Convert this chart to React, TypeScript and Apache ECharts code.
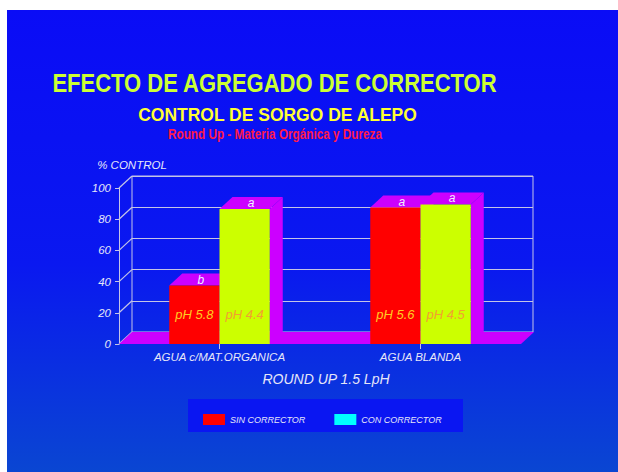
import React, { useEffect, useRef } from 'react';
import * as echarts from 'echarts';

// ---- data ----
const categories = ['AGUA c/MAT.ORGANICA', 'AGUA BLANDA'];
const seriesNames = ['SIN CORRECTOR', 'CON CORRECTOR'];
const sinCorrector = [37.5, 87.5];
const conCorrector = [86.5, 89.5];
const sinPh = ['pH 5.8', 'pH 5.6'];
const conPh = ['pH 4.4', 'pH 4.5'];
const sinLetters = ['b', 'a'];
const conLetters = ['a', 'a'];
const yTicks = [0, 20, 40, 60, 80, 100];

// ---- styles ----
const DX = 13;
const DY = -12;
const PURPLE = '#CC00FF';
const RED = '#FF0000';
const YELLOW = '#CCFF00';
const CYAN = '#00FFFF';
const LIGHT = '#E6E6F8';
const GRIDC = '#C4C4E6';
const FONT = '"Liberation Sans", Arial, sans-serif';

function txt(text: string, fill: string, size: number, extra: any = {}) {
  return {
    text,
    fill,
    fontSize: size,
    fontFamily: FONT,
    fontStyle: extra.fontStyle || 'normal',
    fontWeight: extra.fontWeight || 'normal',
    align: 'center',
    verticalAlign: 'middle',
    textAlign: 'center',
    textVerticalAlign: 'middle',
  };
}

function makeBar(side: number, phs: string[], letters: string[], front: string, phColor: string) {
  return (params: any, api: any) => {
    const cat = api.value(0);
    const v = api.value(1);
    const band = api.size([1, 0])[0];
    const w = band * 0.25;
    const top = api.coord([cat, v]);
    const base = api.coord([cat, 0]);
    const x0 = side === 0 ? top[0] - w : top[0];
    const x1 = x0 + w;
    const yT = top[1];
    const yB = base[1];
    return {
      type: 'group',
      children: [
        {
          type: 'polygon',
          shape: { points: [[x1, yT], [x1 + DX, yT + DY], [x1 + DX, yB + DY], [x1, yB]] },
          style: { fill: PURPLE },
        },
        {
          type: 'polygon',
          shape: { points: [[x0, yT], [x1, yT], [x1 + DX, yT + DY], [x0 + DX, yT + DY]] },
          style: { fill: PURPLE },
        },
        {
          type: 'rect',
          shape: { x: x0, y: yT, width: w, height: yB - yT },
          style: { fill: front },
        },
        {
          type: 'text',
          x: (x0 + x1) / 2 + DX / 2,
          y: yT + DY / 2,
          style: txt(letters[params.dataIndex], '#F0F0FF', 12, { fontStyle: 'italic' }),
        },
        {
          type: 'text',
          x: (x0 + x1) / 2,
          y: yB - 30,
          style: txt(phs[params.dataIndex], phColor, 13, { fontStyle: 'italic' }),
        },
      ],
    };
  };
}

export default function App() {
  const ref = useRef<HTMLDivElement>(null);
  useEffect(() => {
    if (!ref.current) return;
    const chart = echarts.init(ref.current, null, { renderer: 'svg' });
    const axisText = { color: LIGHT, fontFamily: FONT, fontStyle: 'italic', fontSize: 11.5 };
    const option: any = {
      animation: false,
      backgroundColor: '#FFFFFF',
      graphic: [
        {
          type: 'rect',
          z: -10,
          shape: { x: 7, y: 10, width: 611, height: 462 },
          style: {
            fill: new echarts.graphic.LinearGradient(0, 0, 0, 1, [
              { offset: 0, color: '#0A0CF6' },
              { offset: 0.55, color: '#0A18F0' },
              { offset: 1, color: '#0A46D2' },
            ]),
          },
        },
        {
          type: 'rect',
          shape: { x: 188, y: 399, width: 275, height: 33 },
          style: { fill: '#0A16F2' },
        },
        {
          type: 'text',
          x: 274.5,
          y: 84,
          scaleX: 0.88,
          style: txt('EFECTO DE AGREGADO DE CORRECTOR', '#CCFF33', 25, { fontWeight: 'bold' }),
        },
        {
          type: 'text',
          x: 277.5,
          y: 114.5,
          scaleX: 0.92,
          style: txt('CONTROL DE SORGO DE ALEPO', '#FFFF33', 19, { fontWeight: 'bold' }),
        },
        {
          type: 'text',
          x: 275,
          y: 134,
          scaleX: 0.81,
          style: txt('Round Up - Materia Orgánica y Dureza', '#FF1A4A', 14.5, { fontWeight: 'bold' }),
        },
      ],
      legend: {
        data: [
          { name: seriesNames[0], itemStyle: { color: RED } },
          { name: seriesNames[1], itemStyle: { color: CYAN } },
        ],
        icon: 'rect',
        left: 198,
        top: 409,
        itemWidth: 22,
        itemHeight: 11,
        itemGap: 29,
        textStyle: { color: LIGHT, fontFamily: FONT, fontStyle: 'italic', fontSize: 9 },
        selectedMode: false,
      },
      grid: [
        { left: 119, top: 188, width: 402, height: 156 },
        {
          left: 132,
          top: 176,
          width: 401,
          height: 156,
          show: true,
          borderColor: GRIDC,
          borderWidth: 1,
          backgroundColor: 'transparent',
        },
      ],
      xAxis: [
        {
          type: 'category',
          gridIndex: 0,
          data: categories,
          axisLine: { show: false },
          axisTick: { show: true, alignWithLabel: true, length: 5, lineStyle: { color: GRIDC } },
          axisLabel: { ...axisText, margin: 7 },
          name: 'ROUND UP 1.5 LpH',
          nameLocation: 'middle',
          nameGap: 28,
          nameTextStyle: { ...axisText, fontSize: 14, padding: [0, 0, 0, 12] },
        },
        { type: 'value', gridIndex: 1, show: false, min: 0, max: 1 },
      ],
      yAxis: [
        {
          type: 'value',
          gridIndex: 0,
          min: 0,
          max: 100,
          interval: 20,
          axisLine: { show: true, lineStyle: { color: GRIDC } },
          axisTick: { show: true, length: 4, lineStyle: { color: GRIDC } },
          axisLabel: { ...axisText, margin: 8 },
          splitLine: { show: false },
        },
        {
          type: 'value',
          gridIndex: 1,
          min: 0,
          max: 100,
          interval: 20,
          axisLine: { show: false },
          axisTick: { show: false },
          axisLabel: { show: false },
          splitLine: { show: true, lineStyle: { color: GRIDC, width: 1.2 } },
          name: '% CONTROL',
          nameLocation: 'end',
          nameGap: 5,
          nameTextStyle: { ...axisText, fontSize: 11.5 },
        },
      ],
      series: [
        {
          type: 'custom',
          name: 'walls',
          xAxisIndex: 0,
          yAxisIndex: 0,
          data: yTicks.map((v) => [0, v]),
          encode: { x: 0, y: 1 },
          silent: true,
          renderItem: (params: any, api: any) => {
            const y = api.coord([0, api.value(1)])[1];
            const x = params.coordSys.x;
            return {
              type: 'line',
              shape: { x1: x, y1: y, x2: x + DX, y2: y + DY },
              style: { stroke: GRIDC, lineWidth: 1.2 },
            };
          },
        },
        {
          type: 'custom',
          name: 'floor',
          xAxisIndex: 0,
          yAxisIndex: 0,
          data: [[0, 0]],
          encode: { x: 0, y: 1 },
          silent: true,
          renderItem: (params: any, api: any) => {
            const y = api.coord([0, 0])[1];
            const x = params.coordSys.x;
            const r = x + params.coordSys.width;
            return {
              type: 'polygon',
              shape: { points: [[x, y], [r, y], [r + DX, y + DY], [x + DX, y + DY]] },
              style: { fill: PURPLE },
            };
          },
        },
        {
          type: 'custom',
          name: seriesNames[0],
          xAxisIndex: 0,
          yAxisIndex: 0,
          itemStyle: { color: RED },
          data: sinCorrector.map((v, i) => [i, v]),
          encode: { x: 0, y: 1 },
          renderItem: makeBar(0, sinPh, sinLetters, RED, '#FFCC22'),
        },
        {
          type: 'custom',
          name: seriesNames[1],
          xAxisIndex: 0,
          yAxisIndex: 0,
          itemStyle: { color: YELLOW },
          data: conCorrector.map((v, i) => [i, v]),
          encode: { x: 0, y: 1 },
          renderItem: makeBar(1, conPh, conLetters, YELLOW, '#F2A030'),
        },
      ],
    };
    chart.setOption(option);
    return () => chart.dispose();
  }, []);
  return (
    <div
      ref={ref}
      style={{ position: 'absolute', left: 0, top: 0, width: 618, height: 472 }}
    />
  );
}
